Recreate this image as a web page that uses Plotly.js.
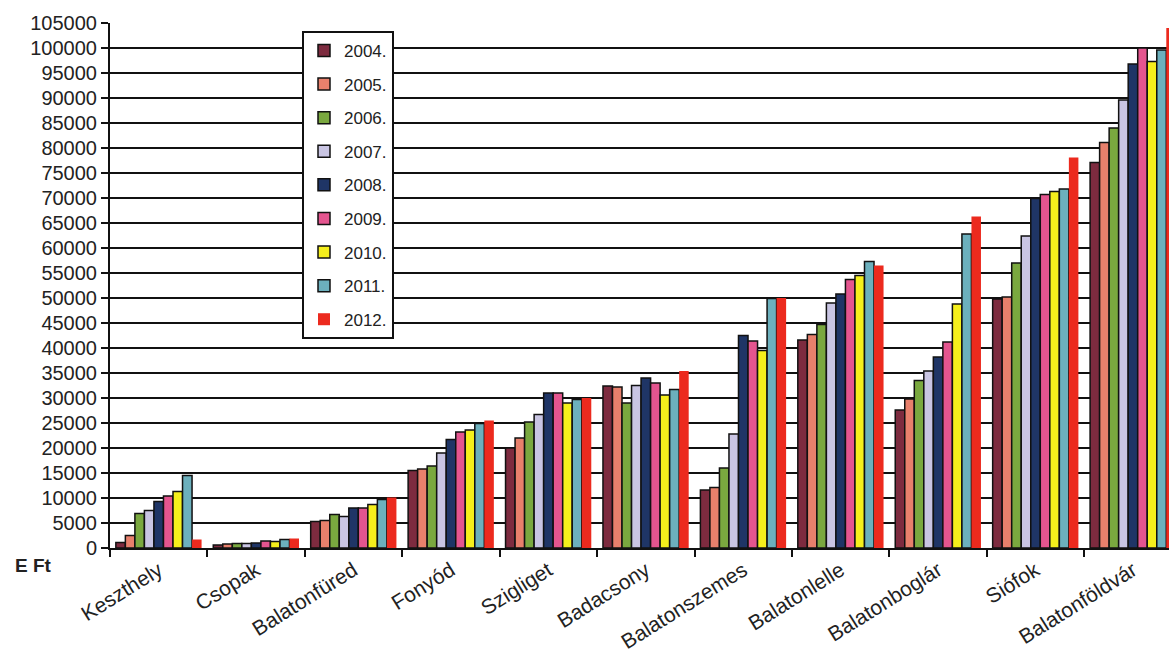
<!DOCTYPE html>
<html>
<head>
<meta charset="utf-8">
<script src="https://cdn.plot.ly/plotly-3.0.1.min.js"></script>
<style>
html,body{margin:0;padding:0;background:#fff;}
#chart{width:1169px;height:662px;}
</style>
</head>
<body>
<div id="chart"></div>
<script>
const categories = ["Keszthely","Csopak","Balatonfüred","Fonyód","Szigliget","Badacsony","Balatonszemes","Balatonlelle","Balatonboglár","Siófok","Balatonföldvár"];
const years = ["2004.","2005.","2006.","2007.","2008.","2009.","2010.","2011.","2012."];
const v2004 = [1100, 600, 5300, 15500, 20000, 32400, 11600, 41600, 27600, 49800, 77100];
const v2005 = [2500, 800, 5500, 15800, 22000, 32200, 12100, 42700, 29800, 50200, 81100];
const v2006 = [6900, 900, 6700, 16400, 25200, 29000, 16000, 44700, 33500, 57000, 84000];
const v2007 = [7500, 900, 6300, 19000, 26700, 32500, 22800, 49000, 35400, 62400, 89600];
const v2008 = [9300, 1000, 8000, 21700, 31000, 34000, 42500, 50800, 38200, 69900, 96800];
const v2009 = [10400, 1400, 8000, 23200, 31000, 33000, 41400, 53700, 41200, 70700, 100000];
const v2010 = [11300, 1300, 8700, 23600, 29000, 30600, 39500, 54500, 48800, 71300, 97300];
const v2011 = [14500, 1700, 9700, 24900, 29700, 31700, 49900, 57300, 62800, 71800, 99600];
const v2012 = [1700, 1900, 10100, 25500, 30000, 35400, 50000, 56500, 66300, 78100, 104000];
const seriesValues = [v2004, v2005, v2006, v2007, v2008, v2009, v2010, v2011, v2012];
const colors = ["#7d2b3f","#e8806c","#7aa83f","#c9c5e3","#1f3566","#e4558f","#f5ef1c","#6cb0bd","#ec2a1e"];
const yTicks = [];
for (let t = 0; t <= 105000; t += 5000) yTicks.push(t);

const FONT = "Liberation Sans, Arial, sans-serif";

const traces = seriesValues.map((vals, i) => ({
  type: "bar",
  name: years[i],
  x: categories,
  y: vals,
  legendgroup: "g" + i,
  marker: {
    color: colors[i],
    line: {color: i === 8 ? colors[i] : "#111", width: i === 8 ? 0 : 1.5}
  },
  hoverinfo: "x+y+name"
}));

const layout = {
  width: 1169,
  height: 662,
  margin: {l: 110, r: 0, t: 23, b: 114},
  paper_bgcolor: "#fff",
  plot_bgcolor: "#fff",
  barmode: "group",
  bargap: 0.12,
  bargroupgap: 0,
  font: {family: FONT, color: "#222"},
  xaxis: {
    type: "category",
    range: [-0.5, 10.37],
    tickangle: -32,
    tickfont: {family: FONT, size: 21, color: "#222"},
    showline: true,
    linecolor: "#111",
    linewidth: 2,
    ticks: "outside",
    tickson: "boundaries",
    ticklen: 7,
    tickwidth: 2,
    tickcolor: "#111",
    showgrid: false,
    zeroline: false,
    fixedrange: true
  },
  yaxis: {
    range: [0, 105000],
    tickvals: yTicks,
    ticktext: yTicks.map(String),
    tickfont: {family: FONT, size: 20, color: "#222"},
    showline: true,
    linecolor: "#111",
    linewidth: 2,
    ticks: "outside",
    ticklen: 7,
    tickwidth: 2,
    tickcolor: "#111",
    showgrid: true,
    gridcolor: "#111",
    gridwidth: 1.6,
    zeroline: false,
    fixedrange: true
  },
  legend: {
    x: 0.1813,
    y: 0.985,
    xanchor: "left",
    yanchor: "top",
    bgcolor: "#fff",
    bordercolor: "#111",
    borderwidth: 2,
    font: {family: FONT, size: 17, color: "#222"},
    traceorder: "grouped",
    tracegroupgap: 8.5,
    itemwidth: 30
  },
  annotations: [{
    text: "<b>E Ft</b>",
    xref: "paper", yref: "paper",
    x: -0.0916, y: -0.0324,
    xanchor: "left", yanchor: "middle",
    showarrow: false,
    font: {family: FONT, size: 19, color: "#222"}
  }]
};

Plotly.newPlot("chart", traces, layout, {displayModeBar: false, staticPlot: true});
</script>
</body>
</html>
